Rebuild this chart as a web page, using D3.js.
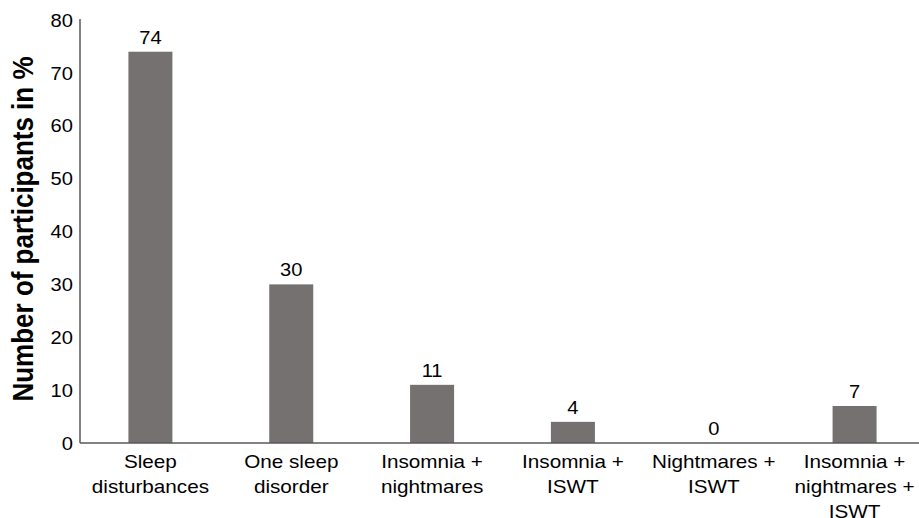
<!DOCTYPE html>
<html>
<head>
<meta charset="utf-8">
<script src="https://cdn.jsdelivr.net/npm/d3@7"></script>
<style>
  html, body { margin: 0; padding: 0; background: #fff; }
  svg { display: block; font-family: "Liberation Sans", Arial, sans-serif; }
</style>
</head>
<body>
<svg id="chart" width="919" height="518"></svg>
<script>
const categories = [
  ["Sleep", "disturbances"],
  ["One sleep", "disorder"],
  ["Insomnia +", "nightmares"],
  ["Insomnia +", "ISWT"],
  ["Nightmares +", "ISWT"],
  ["Insomnia +", "nightmares +", "ISWT"]
];
const values = [74, 30, 11, 4, 0, 7];
const yTicks = [0, 10, 20, 30, 40, 50, 60, 70, 80];
const yTitle = "Number of participants in %";

(function () {
const W = 919, H = 518;
const mLeft = 80, mRight = 925, mTop = 19, mBottom = 443;
const stretch = 1.15;
const axisColor = "#595959";
const barColor = "#767171";

const svg = d3.select("#chart");
const keys = categories.map((c, i) => i);

const x = d3.scaleBand().domain(keys).range([mLeft, mRight])
  .paddingInner(0.6875).paddingOuter(0.34375);
const y = d3.scaleLinear().domain([0, 80]).range([mBottom, mTop + 1]);

// bars
svg.append("g").selectAll("rect").data(values).join("rect")
  .attr("x", (d, i) => x(i))
  .attr("y", d => y(d))
  .attr("width", x.bandwidth())
  .attr("height", d => y(0) - y(d))
  .attr("fill", barColor);

// value labels
svg.append("g").selectAll("text").data(values).join("text")
  .attr("transform", (d, i) => `translate(${x(i) + x.bandwidth() / 2},${y(d) - 8}) scale(${stretch},1)`)
  .attr("text-anchor", "middle")
  .attr("font-size", "17.5px")
  .attr("fill", "#000")
  .text(d => d);

// y axis
const yAxis = svg.append("g")
  .attr("transform", `translate(${mLeft},0)`)
  .call(d3.axisLeft(y).tickValues(yTicks).tickSize(0).tickFormat(d3.format("d")));
yAxis.select(".domain").attr("stroke", axisColor).attr("stroke-width", 1.5)
  .attr("d", `M0,${mTop}V${mBottom}`);
yAxis.selectAll(".tick text")
  .attr("x", 0).attr("dy", "0.35em")
  .attr("transform", `translate(-7,0) scale(${stretch},1)`)
  .attr("font-size", "17.5px").attr("fill", "#000")
  .attr("font-family", "Liberation Sans, Arial, sans-serif");

// x axis
const xAxis = svg.append("g")
  .attr("transform", `translate(0,${mBottom})`)
  .call(d3.axisBottom(x).tickSize(0).tickFormat(""));
xAxis.select(".domain").attr("stroke", axisColor).attr("stroke-width", 1.5)
  .attr("d", `M${mLeft},0H${W}`);
xAxis.selectAll(".tick").each(function(d) {
  const t = d3.select(this).append("text")
    .attr("text-anchor", "middle")
    .attr("font-size", "18px")
    .attr("fill", "#000")
    .attr("font-family", "Liberation Sans, Arial, sans-serif")
    .attr("transform", `scale(${stretch},1)`);
  categories[d].forEach((line, j) => {
    t.append("tspan").attr("x", 0).attr("y", 25.5 + j * 25).text(line);
  });
});

// y title
svg.append("text")
  .attr("transform", `translate(33,229) scale(${stretch},1) rotate(-90)`)
  .attr("text-anchor", "middle")
  .attr("font-size", "26px")
  .attr("font-weight", "bold")
  .attr("fill", "#000")
  .text(yTitle);
})();
</script>
</body>
</html>
